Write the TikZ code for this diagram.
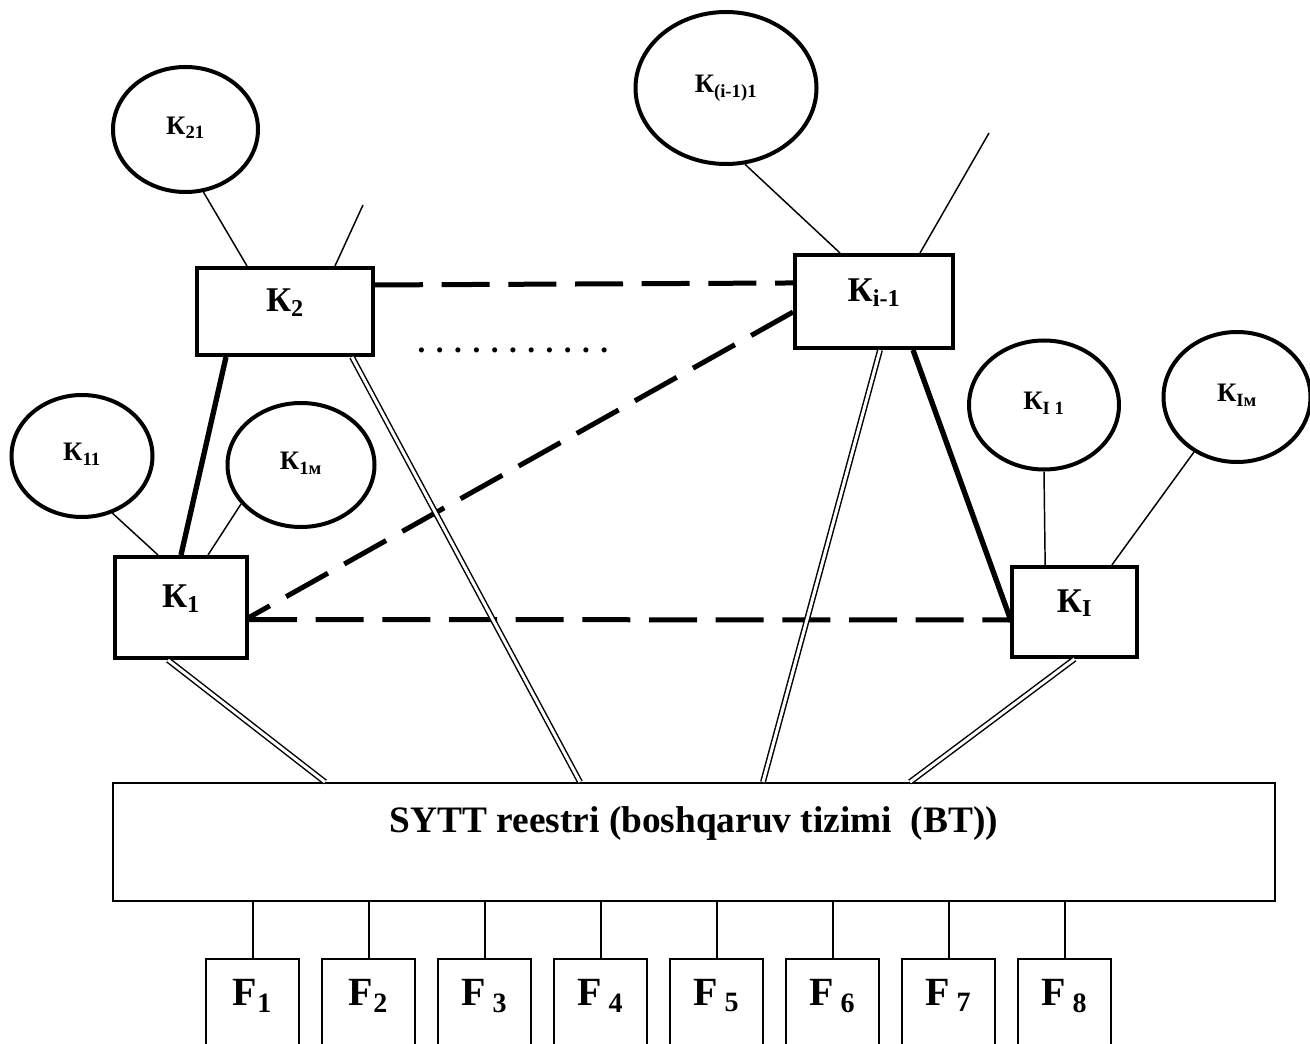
\documentclass[tikz,border=0pt]{standalone}
\usepackage{fontspec}
\setmainfont{Liberation Serif}
\usepackage{tikz}
\usetikzlibrary{shapes.geometric,positioning,calc}
\tikzstyle{kbox} = [rectangle, draw, line width=3pt, inner sep=0pt, font=\fontsize{26}{30}\selectfont\bfseries, text height=15pt, text depth=15pt]
\tikzstyle{kcirc} = [ellipse, draw, line width=3pt, inner sep=0pt, font=\fontsize{20}{24}\selectfont\bfseries, text height=12pt, text depth=4.5pt]
\tikzstyle{fbox} = [rectangle, draw, line width=1.5pt, inner sep=0pt, minimum width=69.75pt, minimum height=90pt, font=\fontsize{30}{36}\selectfont\bfseries, text height=20pt, text depth=41pt]
\tikzstyle{sysbox} = [rectangle, draw, line width=1.5pt, inner sep=0pt, minimum width=871.5pt, minimum height=88.5pt, font=\fontsize{28}{34}\selectfont\bfseries, text height=20pt, text depth=35pt]
\tikzstyle{link} = [line width=1.1pt]
\tikzstyle{stem} = [line width=1.5pt]
\tikzstyle{bond} = [line width=4pt]
\tikzstyle{peer} = [line width=3.75pt, dash pattern=on 36pt off 14pt]
\tikzstyle{feed} = [double, double distance=2.25pt, line width=1.1pt]

\begin{document}
\begin{tikzpicture}[x=0.75pt, y=-0.75pt]
    \clip (0,0) rectangle (1310,1044);
    \node[kcirc, minimum width=108.75pt, minimum height=93.75pt] (K21) at (185.5,129.5) {К\textsubscript{21}};
    \node[kcirc, minimum width=135.75pt, minimum height=114pt] (Kim1) at (726,88) {К\textsubscript{(i-1)1}};
    \node[kcirc, minimum width=105.75pt, minimum height=91.5pt] (K11) at (82,456) {К\textsubscript{11}};
    \node[kcirc, minimum width=110.25pt, minimum height=93pt] (K1m) at (301,465) {К\textsubscript{1м}};
    \node[kcirc, minimum width=112.5pt, minimum height=96.75pt] (KI1) at (1044,405) {К\textsubscript{I 1}};
    \node[kcirc, minimum width=110.25pt, minimum height=97.5pt] (KIm) at (1237,397) {К\textsubscript{Iм}};

    \node[kbox, minimum width=132pt, minimum height=65.25pt] (K2) at (285,311.5) {К\textsubscript{2}};
    \node[kbox, minimum width=118.5pt, minimum height=69.75pt] (Ki) at (874,301.5) {К\textsubscript{i-1}};
    \node[kbox, minimum width=99pt, minimum height=75.75pt] (K1) at (181,607.5) {К\textsubscript{1}};
    \node[kbox, minimum width=93.75pt, minimum height=67.5pt] (KI) at (1074.5,612) {К\textsubscript{I}};

    \node[sysbox] (bt) at (694,842) {SYTT reestri (boshqaruv tizimi \ (BT))};
    \node[font=\fontsize{23.5}{28}\selectfont\bfseries, anchor=base] (dots) at (513,353) {. . . . . . . . . . .};

    \node[fbox] (F1) at (252.5,1019) {F\textsubscript{1}};
    \foreach \i [evaluate=\i as \j using int(\i-1)] in {2,...,8}
        \node[fbox, right=15.75pt of F\j] (F\i) {F\ifnum\i>2 \,\fi\textsubscript{\i}};
    \foreach \i in {1,...,8}
        \draw[stem] (F\i.north) -- (F\i.north |- bt.south);

    \coordinate (K2top) at (363,205);
    \coordinate (Kitop) at (989,133);
    \draw[link] (K21.-74) -- ([xshift=-28.5pt]K2.north);
    \draw[link] ([xshift=37.5pt]K2.north) -- (K2top);
    \draw[link] (Kim1.-76) -- ([xshift=-25.5pt]Ki.north);
    \draw[link] ([xshift=34.5pt]Ki.north) -- (Kitop);
    \draw[link] (K11.-62) -- ([xshift=-17.25pt]K1.north);
    \draw[link] (K1m.-147) -- ([xshift=20.25pt]K1.north);
    \draw[link] (KI1.south) -- ([xshift=-22pt]KI.north);
    \draw[link] (KIm.-128) -- ([xshift=28pt]KI.north);

    \draw[bond] ([xshift=-44.25pt]K2.south) -- (K1.north);
    \draw[bond] ([xshift=29.25pt]Ki.south) -- ([yshift=-4.5pt]KI.west);

    \draw[peer] ([yshift=19.9pt]K2.east) -- ([yshift=13.9pt]Ki.west);
    \draw[peer] ([yshift=-7.9pt]Ki.west) -- ([yshift=-7.5pt]K1.east);
    \draw[peer] ([yshift=-9pt]K1.east) -- ([yshift=-6pt]KI.west);

    \draw[feed] ([xshift=-9.75pt]K1.south) -- ([xshift=-276.75pt]bt.north);
    \draw[feed] ([xshift=50.25pt]K2.south) -- ([xshift=-85.5pt]bt.north);
    \draw[feed] ([xshift=4.5pt]Ki.south) -- ([xshift=51.75pt]bt.north);
    \draw[feed] (KI.south) -- ([xshift=162pt]bt.north);
\end{tikzpicture}
\end{document}
